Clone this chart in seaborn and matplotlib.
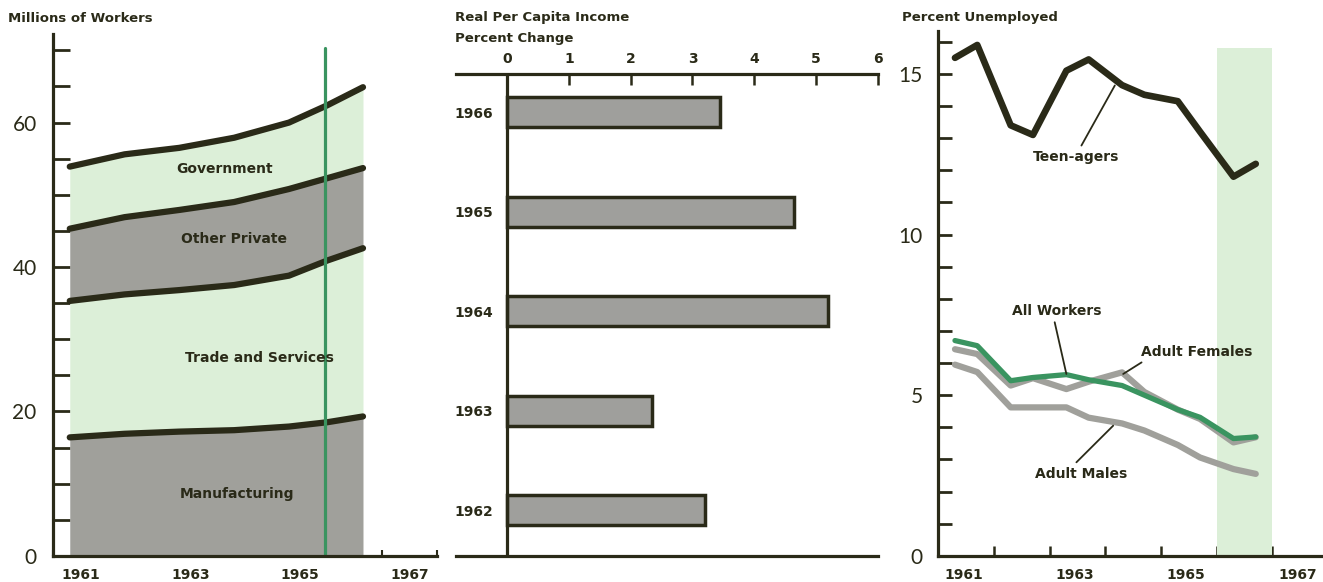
import matplotlib.pyplot as plt
import seaborn as sns
import numpy as np
import pandas as pd

# 左图：就业人数（百万），各层上边界
emp_years = [1961.3, 1962.3, 1963.3, 1964.3, 1965.3, 1966.0, 1966.65]
manufacturing = [16.4, 16.9, 17.2, 17.4, 17.9, 18.5, 19.3]
trade_top = [35.3, 36.2, 36.8, 37.5, 38.8, 40.9, 42.6]
other_top = [45.3, 46.9, 47.9, 49.0, 50.8, 52.3, 53.7]
total = [53.9, 55.6, 56.5, 57.9, 60.0, 62.4, 64.9]
layer_names = ['Manufacturing', 'Trade and Services', 'Other Private', 'Government']

# 中图：实际人均收入变化（%）
income_years = ['1966', '1965', '1964', '1963', '1962']
income_change = [3.45, 4.65, 5.2, 2.35, 3.2]

# 右图：失业率（%）
unemp_x = [1961.3, 1961.7, 1962.3, 1962.7, 1963.3, 1963.7,
           1964.3, 1964.7, 1965.3, 1965.7, 1966.3, 1966.7]
teen = [15.5, 15.9, 13.4, 13.1, 15.1, 15.45, 14.65, 14.35, 14.15, 13.2, 11.8, 12.2]
all_workers = [6.7, 6.54, 5.45, 5.55, 5.64, 5.48, 5.3, 5.0, 4.55, 4.31, 3.65, 3.7]
adult_females = [6.43, 6.28, 5.3, 5.53, 5.19, 5.42, 5.71, 5.1, 4.55, 4.26, 3.53, 3.69]
adult_males = [5.95, 5.72, 4.62, 4.62, 4.62, 4.3, 4.12, 3.9, 3.45, 3.06, 2.7, 2.55]

INK = '#2a2a18'
GRAY = '#a0a09b'
LGREEN = '#dcefd8'
GREEN = '#3a9460'

sns.set_style('ticks')
plt.rcParams['font.family'] = ['DejaVu Sans']
plt.rcParams['text.color'] = INK
plt.rcParams['axes.edgecolor'] = INK
plt.rcParams['xtick.color'] = INK
plt.rcParams['ytick.color'] = INK

fig = plt.figure(figsize=(13.23, 5.82), dpi=100)
ax1 = fig.add_axes([0.0403, 0.045, 0.290, 0.897])
ax2 = fig.add_axes([0.3447, 0.045, 0.3189, 0.827])
ax3 = fig.add_axes([0.7092, 0.045, 0.2947, 0.902])

num_font = dict(family='Lato', weight='normal', size=15, color=INK)

# ---------- 左图 ----------
df1 = pd.DataFrame({'year': emp_years, 'm': manufacturing, 't': trade_top,
                    'o': other_top, 'g': total})
ax1.fill_between(df1['year'], 0, df1['m'], color=GRAY, lw=0)
ax1.fill_between(df1['year'], df1['m'], df1['t'], color=LGREEN, lw=0)
ax1.fill_between(df1['year'], df1['t'], df1['o'], color=GRAY, lw=0)
ax1.fill_between(df1['year'], df1['o'], df1['g'], color=LGREEN, lw=0)
for col in ['m', 't', 'o', 'g']:
    sns.lineplot(data=df1, x='year', y=col, ax=ax1, color=INK, lw=4.5,
                 solid_capstyle='round')
ax1.plot([1965.95, 1965.95], [0, 70.3], color=GREEN, lw=2.3)
label_pos = [(1964.36, 8.6), (1964.76, 27.4), (1964.3, 43.9), (1964.12, 53.6)]
for name, (lx, ly) in zip(layer_names, label_pos):
    ax1.text(lx, ly, name, ha='center', va='center', fontsize=10,
             fontweight='bold')
ax1.set_xlim(1961, 1968)
ax1.set_ylim(0, 72.3)
ax1.set_xticks(range(1961, 1969))
ax1.set_xticklabels([])
ax1.set_xticks([1961.5, 1963.5, 1965.5, 1967.5], minor=True)
ax1.set_xticklabels(['1961', '1963', '1965', '1967'], minor=True,
                    fontsize=10, fontweight='bold')
ax1.tick_params(axis='x', which='major', direction='in', length=4, width=1.5)
ax1.tick_params(axis='x', which='minor', length=0, pad=9)
ax1.set_yticks(np.arange(0, 71, 5))
ax1.set_yticklabels(['0' if v == 0 else (str(v) if v % 20 == 0 else '')
                     for v in range(0, 71, 5)], fontdict=num_font)
ax1.tick_params(axis='y', direction='in', length=12, width=2, pad=12)
ax1.set_xlabel('')
ax1.set_ylabel('')
for s in ['top', 'right']:
    ax1.spines[s].set_visible(False)
for s in ['left', 'bottom']:
    ax1.spines[s].set_linewidth(2.3)
fig.text(0.006, 0.968, 'Millions of Workers', fontsize=9.5, fontweight='bold',
         va='center')

# ---------- 中图 ----------
df2 = pd.DataFrame({'year': income_years, 'change': income_change})
sns.barplot(data=df2, x='change', y='year', order=income_years, orient='h',
            width=0.3, color=GRAY, edgecolor=INK, linewidth=2.5, ax=ax2)
ax2.axvline(0, color=INK, lw=2.3)
ax2.set_xlim(-0.825, 6)
ax2.set_ylim(4.46, -0.38)
ax2.xaxis.tick_top()
ax2.set_xticks(range(0, 7))
ax2.set_xticklabels([str(v) for v in range(0, 7)], fontsize=10,
                    fontweight='bold')
ax2.tick_params(axis='x', direction='in', length=8, width=1.8, pad=6)
ax2.tick_params(axis='y', length=0, pad=-27)
for lab in ax2.get_yticklabels():
    lab.set_fontsize(10)
    lab.set_fontweight('bold')
ax2.set_xlabel('')
ax2.set_ylabel('')
for s in ['left', 'right']:
    ax2.spines[s].set_visible(False)
for s in ['top', 'bottom']:
    ax2.spines[s].set_linewidth(2.3)
fig.text(0.344, 0.970, 'Real Per Capita Income', fontsize=9.5,
         fontweight='bold', va='center')
fig.text(0.344, 0.934, 'Percent Change', fontsize=9.5, fontweight='bold',
         va='center')

# ---------- 右图 ----------
df3 = pd.DataFrame({'x': unemp_x, 'teen': teen, 'all': all_workers,
                    'fem': adult_females, 'male': adult_males})
ax3.fill_between([1966, 1967], 0, 15.8, color=LGREEN, lw=0)
sns.lineplot(data=df3, x='x', y='male', ax=ax3, color=GRAY, lw=4.5)
sns.lineplot(data=df3, x='x', y='fem', ax=ax3, color=GRAY, lw=4.5)
sns.lineplot(data=df3, x='x', y='all', ax=ax3, color=GREEN, lw=3.8)
sns.lineplot(data=df3, x='x', y='teen', ax=ax3, color=INK, lw=4.8)
leaders = [((1963.57, 12.77), (1964.17, 14.64)),
           ((1963.09, 7.27), (1963.30, 5.66)),
           ((1964.65, 6.02), (1964.32, 5.66)),
           ((1963.48, 2.91), (1964.14, 4.05))]
for (xa, ya), (xb, yb) in leaders:
    ax3.plot([xa, xb], [ya, yb], color=INK, lw=1.3)
ax3.text(1963.48, 12.4, 'Teen-agers', ha='center', va='center',
         fontsize=10, fontweight='bold')
ax3.text(1963.12, 7.63, 'All Workers', ha='center', va='center',
         fontsize=10, fontweight='bold')
ax3.text(1965.64, 6.33, 'Adult Females', ha='center', va='center',
         fontsize=10, fontweight='bold')
ax3.text(1963.57, 2.55, 'Adult Males', ha='center', va='center',
         fontsize=10, fontweight='bold')
ax3.set_xlim(1961, 1968)
ax3.set_ylim(0, 16.34)
ax3.set_xticks(range(1961, 1969))
ax3.set_xticklabels([])
ax3.set_xticks([1961.45, 1963.45, 1965.45, 1967.45], minor=True)
ax3.set_xticklabels(['1961', '1963', '1965', '1967'], minor=True,
                    fontsize=10, fontweight='bold')
ax3.tick_params(axis='x', which='major', direction='in', length=7, width=1.8)
ax3.tick_params(axis='x', which='minor', length=0, pad=9)
ax3.set_yticks(range(0, 17))
ax3.set_yticklabels([str(v) if v % 5 == 0 else '' for v in range(0, 17)],
                    fontdict=num_font)
ax3.tick_params(axis='y', direction='in', length=10, width=2, pad=11)
ax3.set_xlabel('')
ax3.set_ylabel('')
for s in ['top', 'right']:
    ax3.spines[s].set_visible(False)
for s in ['left', 'bottom']:
    ax3.spines[s].set_linewidth(2.3)
fig.text(0.682, 0.970, 'Percent Unemployed', fontsize=9.5, fontweight='bold',
         va='center')

fig.savefig('out.png', dpi=100)
